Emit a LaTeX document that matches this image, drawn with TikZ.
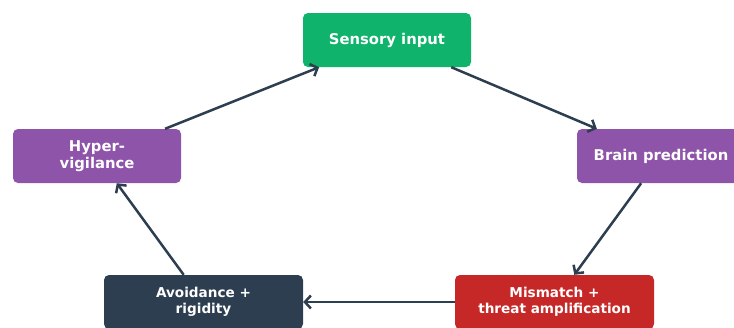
\documentclass[tikz,border=0pt]{standalone}
\usepackage{fontspec}
\setmainfont{DejaVu Sans}
\usetikzlibrary{arrows.meta}
\definecolor{cgreen}{HTML}{10B36B}
\definecolor{cpurple}{HTML}{8E54A9}
\definecolor{cred}{HTML}{C62828}
\definecolor{cdark}{HTML}{2C3E50}
\begin{document}
\begin{tikzpicture}[x=1pt,y=1pt,
  box/.style={rectangle, rounded corners=5pt, inner sep=0pt, minimum height=54pt,
    text=white, font=\bfseries\fontsize{14.8}{17}\selectfont, align=center},
  smallbox/.style={box, minimum width=199pt, font=\bfseries\fontsize{13.6}{16}\selectfont},
  bigbox/.style={box, minimum width=168pt},
  link/.style={draw=cdark, line width=2.5pt, -{Straight Barb[length=6pt,width=13pt,line width=2.5pt]}}]
\useasboundingbox (0,0) rectangle (734,-327);
\node[bigbox, fill=cgreen] (sens) at (387,-40) {Sensory input};
\node[bigbox, fill=cpurple] (brain) at (661,-156) {Brain prediction};
\node[smallbox, fill=cred] (mis) at (554.5,-302) {Mismatch +\\threat amplification};
\node[smallbox, fill=cdark] (avo) at (203.5,-302) {Avoidance +\\rigidity};
\node[bigbox, fill=cpurple] (hyp) at (97,-156) {Hyper-\\vigilance};
\draw[link] (hyp) -- (sens);
\draw[link] (sens) -- (brain);
\draw[link] (brain) -- (mis);
\draw[link] (mis) -- (avo);
\draw[link] (avo) -- (hyp);
\end{tikzpicture}
\end{document}
